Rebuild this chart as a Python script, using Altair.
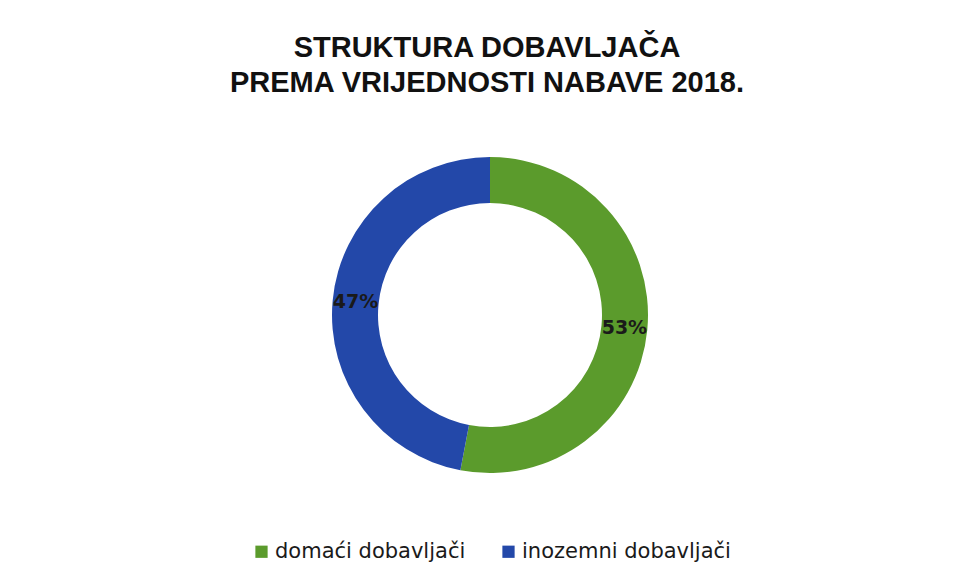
import altair as alt
import pandas as pd

categories = ["domaći dobavljači", "inozemni dobavljači"]
values = [53, 47]
labels = ["53%", "47%"]
colors = ["#5b9b2c", "#2348a9"]

df = pd.DataFrame({"kategorija": categories, "udio": values, "oznaka": labels,
                   "red": [0, 1]})

CX = 482
CY = 197

base = alt.Chart(df).encode(
    theta=alt.Theta("udio:Q", stack=True),
    order=alt.Order("red:Q"),
)

arc = base.mark_arc(innerRadius=112, outerRadius=158).encode(
    color=alt.Color(
        "kategorija:N",
        scale=alt.Scale(domain=categories, range=colors),
        legend=alt.Legend(
            title=None, orient="none", direction="horizontal",
            legendX=243, legendY=423,
            symbolType="square", symbolSize=150, symbolStrokeWidth=0,
            labelFontSize=21, labelFont="DejaVu Sans", labelColor="#1a1a1a",
            columnPadding=32, labelOffset=3, labelLimit=0,
        ),
    ),
    x=alt.value(CX), y=alt.value(CY),
)

text = base.mark_text(radius=135, fontSize=19, fontWeight="bold",
                      font="DejaVu Sans", color="#1a1a1a").encode(
    text="oznaka:N",
    x=alt.value(CX), y=alt.value(CY),
)

chart = (arc + text).properties(
    width=958, height=564,
    autosize=alt.AutoSizeParams(type="fit", contains="padding"),
    padding={"top": 26, "bottom": 6, "left": 0, "right": 0},
    title=alt.TitleParams(
        ["STRUKTURA DOBAVLJAČA", "PREMA VRIJEDNOSTI NABAVE 2018."],
        anchor="middle", fontSize=29, font="Liberation Sans", fontWeight="bold",
        color="#111111", lineHeight=35, offset=20,
    ),
).configure(background="white").configure_view(stroke=None)

chart.save("out.html", embed_options={"renderer": "svg", "actions": False})
